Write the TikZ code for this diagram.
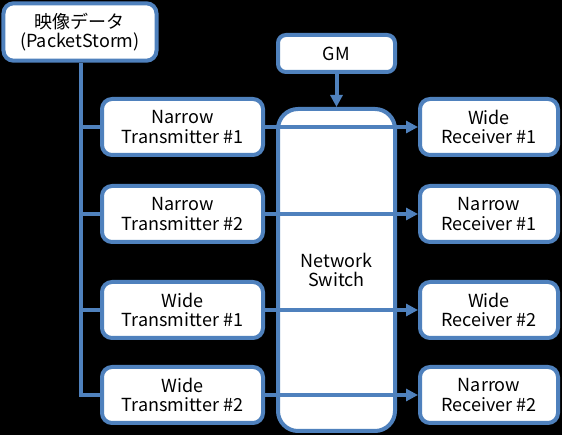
\documentclass[tikz,border=0pt]{standalone}
\usepackage{fontspec}
\setmainfont{Noto Sans CJK JP}
\usepackage{tikz}
\usetikzlibrary{arrows.meta}
\definecolor{boxblue}{HTML}{4F81BD}
\tikzset{
	box/.style={draw=boxblue, line width=3pt, fill=white, rounded corners=7.5pt, align=center, font=\fontsize{13.5}{14.5}\selectfont, inner sep=0pt},
	txbox/.style={box, minimum width=120.75pt, minimum height=42pt},
	rxbox/.style={box, minimum width=103.5pt, minimum height=42pt},
	link/.style={draw=boxblue, line width=3pt},
	arrow/.style={link, -{Triangle[length=9pt,width=9pt]}}
}

\begin{document}
\begin{tikzpicture}[x=0.75pt, y=-0.75pt]
					\fill[black] (0,0) rectangle (562,435);
					\node[box, minimum width=114.75pt, minimum height=43pt] (src) at (80,32) {映像データ\\(PacketStorm)};
					\node[box, minimum width=87.75pt, minimum height=27.75pt, rounded corners=6pt] (gm) at (336.5,53.5) {GM};
					\node[box, minimum width=87.75pt, minimum height=241.5pt, rounded corners=15pt] (sw) at (336.5,270) {Network\\Switch};
					\node[txbox] (nt1) at (182.5,127) {Narrow\\Transmitter \#1};
					\node[txbox] (nt2) at (182.5,214) {Narrow\\Transmitter \#2};
					\node[txbox] (wt1) at (182.5,310) {Wide\\Transmitter \#1};
					\node[txbox] (wt2) at (182.5,395) {Wide\\Transmitter \#2};
					\node[rxbox] (wr1) at (489,127) {Wide\\Receiver \#1};
					\node[rxbox] (nr1) at (489,214) {Narrow\\Receiver \#1};
					\node[rxbox] (wr2) at (489,310) {Wide\\Receiver \#2};
					\node[rxbox] (nr2) at (489,395) {Narrow\\Receiver \#2};
					% bus from the source
					\coordinate (bus) at (81,395);
					\draw[link] (src.south -| bus) -- (bus) -- (wt2.west);
					\draw[link] (nt1.west -| bus) -- (nt1.west);
					\draw[link] (nt2.west -| bus) -- (nt2.west);
					\draw[link] (wt1.west -| bus) -- (wt1.west);
					% through the switch
					\draw[arrow] (gm) -- (sw);
					\draw[arrow] (nt1) -- (wr1);
					\draw[arrow] (nt2) -- (nr1);
					\draw[arrow] (wt1) -- (wr2);
					\draw[arrow] (wt2) -- (nr2);
				\end{tikzpicture}
\end{document}
